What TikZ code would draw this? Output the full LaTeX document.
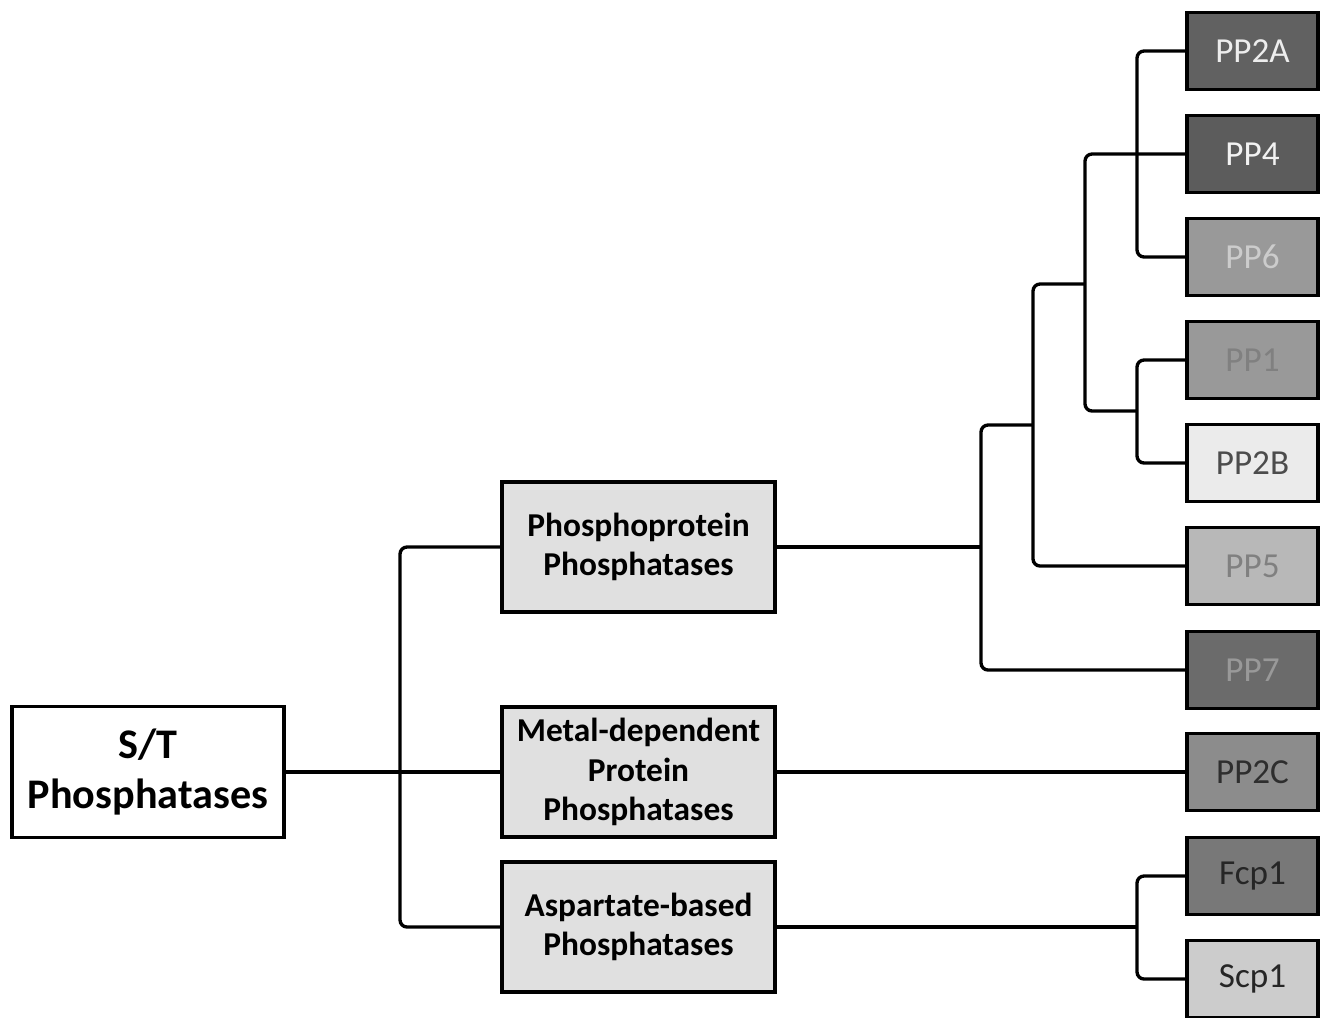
\documentclass[tikz,border=0pt]{standalone}
\usepackage{fontspec}
\setmainfont{Carlito}
\usepackage{tikz}
\usetikzlibrary{calc}

\definecolor{midfill}{gray}{0.88}
\tikzstyle{root} = [rectangle, minimum width=5.44cm, minimum height=2.62cm, align=center, draw=black, fill=white, line width=2.2pt, font=\fontsize{24}{29}\selectfont\bfseries]
\tikzstyle{family} = [rectangle, minimum width=5.46cm, minimum height=2.6cm, align=center, draw=black, fill=midfill, line width=2.2pt, font=\fontsize{19}{22.5}\selectfont\bfseries]
\tikzstyle{leaf} = [rectangle, minimum width=2.62cm, minimum height=1.54cm, text centered, draw=black, line width=2.2pt, font=\fontsize{20}{24}\selectfont]
\tikzstyle{branch} = [line width=1.9pt, rounded corners=4pt]

\begin{document}
\begin{tikzpicture}
    \useasboundingbox (0,0) rectangle (26.56,-20.34);

    % Nodes
    \node (st) [root] at (2.96,-15.44) {S/T\\Phosphatases};
    \node (ppp) [family] at (12.77,-10.94) {Phosphoprotein\\Phosphatases};
    \node (ppm) [family] at (12.77,-15.44) {Metal-dependent\\Protein\\Phosphatases};
    \node (asp) [family] at (12.77,-18.54) {Aspartate-based\\Phosphatases};

    \node (pp2a) [leaf, fill=black!62, text=black!7] at (25.05,-1.02) {PP2A};
    \node (pp4)  [leaf, fill=black!64, text=black!5] at (25.05,-3.08) {PP4};
    \node (pp6)  [leaf, fill=black!40, text=black!20] at (25.05,-5.14) {PP6};
    \node (pp1)  [leaf, fill=black!40, text=black!50] at (25.05,-7.2) {PP1};
    \node (pp2b) [leaf, fill=black!8, text=black!70] at (25.05,-9.26) {PP2B};
    \node (pp5)  [leaf, fill=black!28, text=black!50] at (25.05,-11.32) {PP5};
    \node (pp7)  [leaf, fill=black!58, text=black!40] at (25.05,-13.4) {PP7};
    \node (pp2c) [leaf, fill=black!45, text=black!82] at (25.05,-15.44) {PP2C};
    \node (fcp1) [leaf, fill=black!53, text=black!85] at (25.05,-17.52) {Fcp1};
    \node (scp1) [leaf, fill=black!20, text=black!85] at (25.05,-19.58) {Scp1};

    % Junctions
    \coordinate (j0) at (8.0,-15.44);
    \coordinate (j1) at (19.62,-10.94);
    \coordinate (j2) at (20.66,-8.5);
    \coordinate (j3) at (21.7,-5.68);
    \coordinate (j4) at (22.74,-8.22);
    \coordinate (j5) at (22.74,-3.08);
    \coordinate (j6) at (22.74,-18.54);

    % Tree
    \draw [branch] (st.east) -- (ppm.west);
    \draw [branch] (ppp.west) -| (j0) |- (asp.west);
    \draw [branch] (ppp.east) -- (j1);
    \draw [branch] (pp7.west) -| (j1) |- (j2);
    \draw [branch] (pp5.west) -| (j2) |- (j3);
    \draw [branch] (pp4.west) -| (j3) |- (j4);
    \draw [branch] (pp1.west) -| (j4) |- (pp2b.west);
    \draw [branch] (pp2a.west) -| (j5) |- (pp6.west);
    \draw [branch] (ppm.east) -- (pp2c.west);
    \draw [branch] (asp.east) -- (j6);
    \draw [branch] (fcp1.west) -| (j6) |- (scp1.west);
\end{tikzpicture}
\end{document}
